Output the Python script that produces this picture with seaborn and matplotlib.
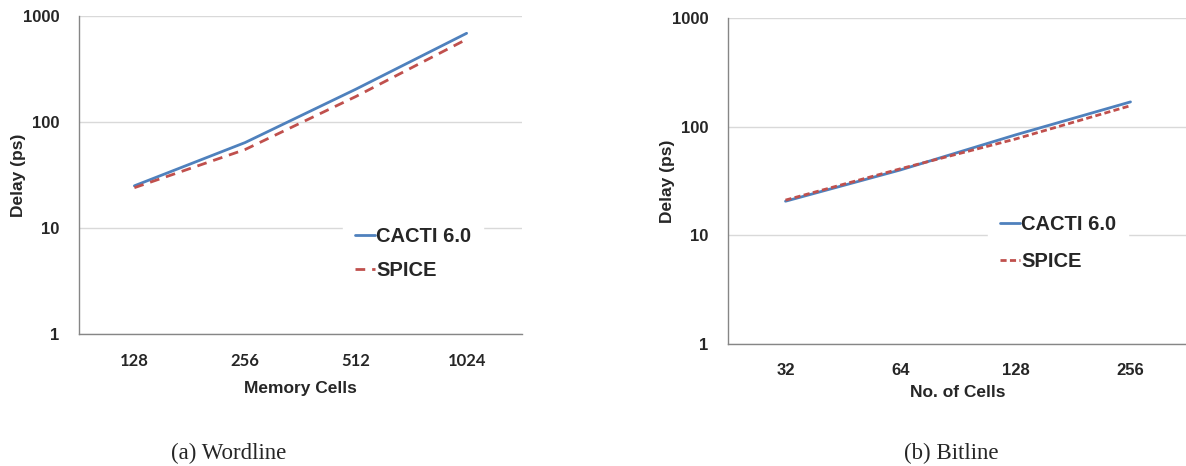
import numpy as np
import pandas as pd
import matplotlib
matplotlib.use("Agg")
import matplotlib.pyplot as plt
import seaborn as sns


# =========================================
# DATA
# =========================================

wordline_cells = ["128", "256", "512", "1024"]
wordline_cacti = [25, 64, 204, 687]
wordline_spice = [24, 55, 174, 603]

bitline_cells = ["32", "64", "128", "256"]
bitline_cacti = [20.6, 40, 84, 169]
bitline_spice = [21.1, 41, 77, 156]

series_names = ["CACTI 6.0", "SPICE"]
y_ticks = [1, 10, 100, 1000]
captions = ["(a) Wordline", "(b) Bitline"]


# =========================================
# STYLE
# =========================================

sns.set_style("white")

plt.rcParams["font.family"] = ["Liberation Sans", "DejaVu Sans"]

blue = "#4F81BD"
red = "#C0504D"
spine_grey = "#868686"
grid_grey = "#D9D9D9"

W, H = 1186, 466
fig = plt.figure(figsize=(W / 100, H / 100), dpi=100)


def px_axes(x0, y0, x1, y1):
    # pixel box (top-left origin) -> figure fraction
    return fig.add_axes([x0 / W, 1 - y1 / H, (x1 - x0) / W, (y1 - y0) / H])


def make_frame(cells, cacti, spice):
    return pd.DataFrame({
        "cells": cells * 2,
        "delay": cacti + spice,
        "model": [series_names[0]] * len(cells) + [series_names[1]] * len(cells),
    })


def draw_panel(ax, df, xlabel, xtick_font, dash, legend_anchor, label_gap,
               ylabel_x, xlabel_pad):

    sns.lineplot(
        data=df,
        x="cells",
        y="delay",
        hue="model",
        style="model",
        palette={series_names[0]: blue, series_names[1]: red},
        dashes={series_names[0]: "", series_names[1]: dash},
        sort=False,
        linewidth=2,
        ax=ax,
        legend=True,
    )

    n = df["cells"].nunique()

    ax.set_yscale("log")
    ax.set_ylim(1, 1000)
    ax.set_xlim(-0.5, n - 0.5)

    ax.set_yticks(y_ticks)
    ax.set_yticklabels([str(t) for t in y_ticks], fontsize=12, fontweight="bold")
    ax.yaxis.set_minor_locator(matplotlib.ticker.NullLocator())

    ax.set_xticks(np.arange(n))
    ax.set_xticklabels(list(df["cells"].unique()), fontsize=12, fontweight="bold",
                       family=xtick_font)
    ax.set_xticks(np.arange(n + 1) - 0.5, minor=True)
    ax.tick_params(axis="x", which="major", length=0, pad=14)
    ax.tick_params(axis="x", which="minor", length=5, width=1, color="#BFBFBF",
                   direction="out")
    ax.tick_params(axis="y", which="major", length=5, width=1, color=spine_grey,
                   direction="out", pad=9)

    ax.grid(axis="y", color=grid_grey, linewidth=1)
    ax.grid(axis="x", visible=False)
    ax.set_axisbelow(True)

    for side in ["top", "right"]:
        ax.spines[side].set_visible(False)
    for side in ["left", "bottom"]:
        ax.spines[side].set_color(spine_grey)
        ax.spines[side].set_linewidth(1)

    ax.set_xlabel(xlabel, fontsize=12.5, fontweight="bold", labelpad=xlabel_pad)
    ax.set_ylabel("Delay (ps)", fontsize=12.5, fontweight="bold")
    ax.yaxis.set_label_coords(ylabel_x, 0.5)

    handles, labels = ax.get_legend_handles_labels()
    leg = ax.legend(
        handles,
        labels,
        loc="upper left",
        bbox_to_anchor=legend_anchor,
        frameon=True,
        facecolor="white",
        edgecolor="white",
        framealpha=1,
        fancybox=False,
        fontsize=14.5,
        handlelength=1.0,
        handletextpad=0.05,
        labelspacing=label_gap,
        borderpad=0.6,
    )
    for text in leg.get_texts():
        text.set_fontweight("bold")


# =========================================
# WORDLINE PANEL
# =========================================

ax1 = px_axes(79, 16, 522, 334)

draw_panel(
    ax1,
    make_frame(wordline_cells, wordline_cacti, wordline_spice),
    "Memory Cells",
    ["Lato", "DejaVu Sans"],
    (3.5, 2.5),
    (0.573, 0.405),
    0.75,
    -0.12,
    8,
)


# =========================================
# BITLINE PANEL
# =========================================

ax2 = px_axes(728, 18, 1188, 344)

draw_panel(
    ax2,
    make_frame(bitline_cells, bitline_cacti, bitline_spice),
    "No. of Cells",
    ["Liberation Sans", "DejaVu Sans"],
    (2.2, 1.2),
    (0.543, 0.463),
    0.9,
    -0.115,
    5,
)


# =========================================
# CAPTIONS
# =========================================

fig.text(229 / W, 1 - 453 / H, captions[0], ha="center", va="center",
         fontsize=16.5, family=["Liberation Serif", "DejaVu Serif"])

fig.text(951 / W, 1 - 453 / H, captions[1], ha="center", va="center",
         fontsize=16.5, family=["Liberation Serif", "DejaVu Serif"])


plt.savefig("out.png", dpi=100)
